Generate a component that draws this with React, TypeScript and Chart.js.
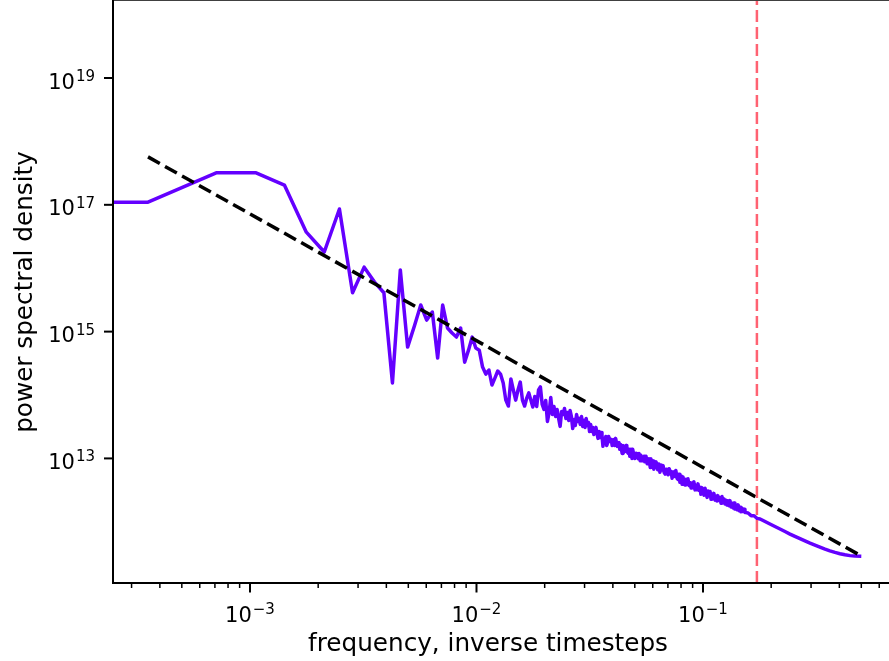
import React, { useEffect, useRef } from "react";
import { Chart, registerables } from "chart.js";

Chart.register(...registerables);

// ---- data ----
const N_SAMPLES = 2820; // frequency = bin / N_SAMPLES (inverse timesteps)

// low-frequency bins (every bin)
const lowBins = [
  0, 1, 2, 3, 4, 5, 6, 7, 8, 9, 10, 11, 12, 13, 14, 15, 16, 17, 18, 19, 20,
  21, 22, 23, 24, 25, 26, 27, 28, 29, 30, 31, 32, 33, 34, 35, 36, 37, 38, 39, 40,
  41, 42, 43, 44, 45, 46, 47, 48, 49, 50,
  51, 52, 53, 54, 55, 56, 57, 58, 59, 60, 61, 62, 63, 64, 65, 66, 67, 68, 69, 70,
  71, 72, 73, 74, 75, 76, 77, 78, 79, 80, 81, 82, 83, 84, 85, 86, 87, 88, 89, 90,
];
const lowPsd = [
  1.1e17, 1.1e17, 3.2e17, 3.2e17, 2.05e17, 3.7e16, 1.8e16, 8.6e16, 4.1e15, 1.04e16, 6.05e15,
  4.1e15, 1.55e14, 9.4e15, 5.7e14, 1.23e15, 2.63e15, 1.52e15, 2.04e15, 3.83e14, 2.63e15,
  1.14e15, 9.5e14, 8.2e14, 1.14e15, 3.3e14, 5.1e14, 8.2e14, 5.5e14, 5.1e14, 2.76e14,
  2.14e14, 2.48e14, 1.44e14, 1.85e14, 2.39e14, 2.14e14, 1.55e14, 8.3e13, 6.7e13, 1.79e14,
  1.2e14, 8.3e13, 1.2e14, 1.6e14, 8.3e13, 6.7e13, 8.96e13, 1.08e14, 8.3e13, 6.46e13,
  9.49e13, 6.6e13, 1.2e14, 1.34e14, 7.1e13, 5.92e13, 8.21e13, 3.83e13, 5.31e13, 9.15e13,
  4.94e13, 6.6e13, 4.59e13, 5.92e13, 4.27e13, 3.2e13, 5.51e13, 4.94e13, 6.14e13, 4.27e13,
  5.31e13, 3.97e13, 5.71e13, 4.59e13, 2.97e13, 4.12e13, 3.31e13, 4.94e13, 3.83e13, 4.27e13,
  3.44e13, 4.59e13, 3.2e13, 3.97e13, 3.08e13, 4.27e13, 3.31e13, 3.69e13, 2.66e13, 3.44e13,
];

// mid-frequency bins (dense, noisy band)
const midBins = [
  91, 92, 93, 94, 95, 96, 97, 98, 99, 100,
  101, 102, 103, 104, 105, 106, 107, 108, 110, 111,
  112, 113, 114, 115, 116, 118, 119, 120, 121, 122,
  124, 125, 126, 128, 129, 130, 132, 133, 134, 136,
  137, 138, 140, 141, 143, 144, 146, 147, 149, 150,
  152, 153, 155, 156, 158, 160, 161, 163, 165, 166,
  168, 170, 171, 173, 175, 177, 178, 180, 182, 184,
  186, 188, 190, 192, 194, 196, 198, 200, 202, 204,
  206, 208, 210, 212, 214, 217, 219, 221, 223, 226,
  228, 230, 233, 235, 237, 240, 242, 245, 247, 250,
  252, 255, 257, 260, 263, 265, 268, 271, 274, 276,
  279, 282, 285, 288, 291, 294, 297, 300, 303, 306,
  309, 312, 315, 319, 322, 325, 328, 332, 335, 339,
  342, 346, 349, 353, 356, 360, 364, 367, 371, 375,
  379, 383, 387, 390, 394, 399, 403, 407, 411, 415,
  419, 424, 428, 432,
];
const midPsd = [
  2.66e13, 3.08e13, 2.39e13, 2.87e13, 3.08e13, 2.48e13, 2.07e13, 2.66e13, 2.14e13, 2.57e13,
  2.3e13, 1.55e13, 2.07e13, 1.85e13, 2.22e13, 1.6e13, 1.79e13, 2.22e13, 1.85e13, 1.99e13,
  1.6e13, 1.79e13, 1.99e13, 1.6e13, 2.07e13, 1.55e13, 1.6e13, 1.79e13, 1.39e13, 1.66e13,
  1.2e13, 1.6e13, 1.24e13, 1.49e13, 1.6e13, 1.29e13, 1.2e13, 1.39e13, 1.08e13, 1.39e13,
  1.0e13, 1.39e13, 1.08e13, 1.0e13, 1.2e13, 1.16e13, 9.84e12, 1.2e13, 9.15e12, 1.12e13,
  9.15e12, 9.84e12, 1.08e13, 8.83e12, 1.08e13, 8.21e12, 8.83e12, 9.84e12, 7.2e12, 9.91e12,
  7.36e12, 9.09e12, 6.75e12, 8.33e12, 8.82e12, 7.25e12, 6.61e12, 8.15e12, 6.05e12, 7.86e12,
  6.55e12, 7.69e12, 6.01e12, 5.67e12, 6.75e12, 6.7e12, 5.51e12, 6.89e12, 5.83e12, 6.28e12,
  4.87e12, 5.71e12, 6.14e12, 5.2e12, 6.46e12, 4.8e12, 4.66e12, 5.63e12, 4.21e12, 5.27e12,
  3.92e12, 5.09e12, 4.21e12, 3.8e12, 4.69e12, 4.27e12, 4.76e12, 3.72e12, 4.18e12, 3.41e12,
  4.09e12, 3.64e12, 4.3e12, 3.19e12, 3.74e12, 3.21e12, 3.97e12, 3.13e12, 3.49e12, 2.72e12,
  3.46e12, 2.91e12, 2.64e12, 3.38e12, 2.87e12, 2.43e12, 3.07e12, 2.6e12, 3.0e12, 2.26e12,
  2.72e12, 2.31e12, 2.81e12, 2.2e12, 2.53e12, 2.13e12, 2.59e12, 2.17e12, 2.38e12, 1.96e12,
  2.5e12, 2.0e12, 2.29e12, 1.91e12, 2.19e12, 1.84e12, 2.14e12, 1.79e12, 2.16e12, 1.71e12,
  1.96e12, 1.66e12, 1.98e12, 1.59e12, 1.83e12, 1.55e12, 1.85e12, 1.5e12, 1.7e12, 1.44e12,
  1.64e12, 1.46e12, 1.58e12, 1.41e12,
];

// high-frequency bins (smooth tail up to Nyquist)
const highBins = [
  446, 460, 474, 489, 504, 530, 557, 586, 617, 649, 683, 718, 756, 795, 837, 880,
  926, 975, 1025, 1079, 1135, 1194, 1257, 1322, 1410,
];
const highPsd = [
  1.38e12, 1.25e12, 1.25e12, 1.13e12, 1.11e12, 1.01e12, 9.22e11, 8.42e11, 7.69e11, 7.02e11,
  6.41e11, 5.9e11, 5.43e11, 5.01e11, 4.62e11, 4.3e11, 4.0e11, 3.72e11, 3.49e11, 3.29e11,
  3.14e11, 3.02e11, 2.93e11, 2.88e11, 2.86e11,
];

// f^-2 reference line (two end points)
const fitFreqs = [1 / 2820, 0.5];
const fitValues = [5.7e17, 2.89e11];

// vertical cutoff marker
const cutoffFreq = 0.173;

// axis ranges and ticks
const X_MIN = 2.484e-4;
const X_MAX = 0.6626;
const Y_MIN = 1.084e11;
const Y_MAX = 1.639e20;
const xTickExps = [-3, -2, -1];
const xMinorDecades = [-4, -3, -2, -1];
const yTickExps = [13, 15, 17, 19];

const xTitle = "frequency, inverse timesteps";
const yTitle = "power spectral density";

// ---- styles ----
const FONT = '"DejaVu Sans", "Liberation Sans", sans-serif';
const TICK_FONT = 21;
const SUP_FONT = 15;
const TITLE_FONT = 24.7;

function drawPower(ctx: CanvasRenderingContext2D, exp: number, x: number, baseY: number, align: "center" | "right") {
  const base = "10";
  const sup = exp < 0 ? "\u2212" + String(-exp) : String(exp);
  ctx.font = `${TICK_FONT}px ${FONT}`;
  const wb = ctx.measureText(base).width;
  ctx.font = `${SUP_FONT}px ${FONT}`;
  const ws = ctx.measureText(sup).width;
  const gap = 1;
  const total = wb + gap + ws;
  const left = align === "center" ? x - total / 2 : x - total;
  ctx.textAlign = "left";
  ctx.textBaseline = "alphabetic";
  ctx.font = `${TICK_FONT}px ${FONT}`;
  ctx.fillText(base, left, baseY);
  ctx.font = `${SUP_FONT}px ${FONT}`;
  ctx.fillText(sup, left + wb + gap, baseY - 7.5);
}

const axesPlugin = {
  id: "mplAxes",
  afterDraw(chart: any) {
    const { ctx, chartArea: a, scales } = chart;
    const xs = scales.x;
    const ys = scales.y;
    ctx.save();
    ctx.strokeStyle = "#000";
    ctx.fillStyle = "#000";

    // minor x ticks
    ctx.lineWidth = 1.5;
    for (const d of xMinorDecades) {
      for (let m = 2; m <= 9; m++) {
        const v = m * Math.pow(10, d);
        if (v < xs.min || v > xs.max) continue;
        const px = xs.getPixelForValue(v);
        ctx.beginPath();
        ctx.moveTo(px, a.bottom);
        ctx.lineTo(px, a.bottom + 5);
        ctx.stroke();
      }
    }
    // major x ticks + labels
    ctx.lineWidth = 2;
    for (const e of xTickExps) {
      const px = xs.getPixelForValue(Math.pow(10, e));
      ctx.beginPath();
      ctx.moveTo(px, a.bottom);
      ctx.lineTo(px, a.bottom + 9.5);
      ctx.stroke();
      drawPower(ctx, e, px, a.bottom + 38.5, "center");
    }
    // major y ticks + labels
    for (const e of yTickExps) {
      const py = ys.getPixelForValue(Math.pow(10, e));
      ctx.beginPath();
      ctx.moveTo(a.left - 9, py);
      ctx.lineTo(a.left, py);
      ctx.stroke();
      drawPower(ctx, e, a.left - 18, py + 10.5, "right");
    }

    // spines
    ctx.lineWidth = 2;
    ctx.beginPath();
    ctx.moveTo(a.left, 0);
    ctx.lineTo(a.left, a.bottom);
    ctx.lineTo(a.right + 2, a.bottom);
    ctx.stroke();
    ctx.lineWidth = 1.5;
    ctx.beginPath();
    ctx.moveTo(a.left, a.top - 1);
    ctx.lineTo(a.right + 2, a.top - 1);
    ctx.stroke();

    // axis titles
    ctx.font = `${TITLE_FONT}px ${FONT}`;
    ctx.textAlign = "center";
    ctx.textBaseline = "alphabetic";
    ctx.fillText(xTitle, 488, a.bottom + 68);
    ctx.translate(31.5, 292);
    ctx.rotate(-Math.PI / 2);
    ctx.fillText(yTitle, 0, 0);
    ctx.restore();
  },
};

export default function App() {
  const canvasRef = useRef<HTMLCanvasElement | null>(null);

  useEffect(() => {
    const canvas = canvasRef.current;
    if (!canvas) return;
    const bins = [...lowBins, ...midBins, ...highBins];
    const psd = [...lowPsd, ...midPsd, ...highPsd];
    const psdData = bins.map((b, i) => ({ x: b / N_SAMPLES, y: psd[i] }));
    const fitData = fitFreqs.map((f, i) => ({ x: f, y: fitValues[i] }));
    const cutoffData = [
      { x: cutoffFreq, y: Y_MIN },
      { x: cutoffFreq, y: Y_MAX },
    ];
    const chart = new Chart(canvas, {
      type: "line",
      data: {
        datasets: [
          {
            label: "cutoff",
            data: cutoffData,
            borderColor: "#ff6272",
            borderWidth: 2.5,
            borderDash: [12, 5],
            pointRadius: 0,
            order: 0,
          },
          {
            label: "f^-2",
            data: fitData,
            borderColor: "#000000",
            borderWidth: 3.5,
            borderDash: [13.5, 6],
            pointRadius: 0,
            order: 1,
          },
          {
            label: "PSD",
            data: psdData,
            borderColor: "#6400ff",
            borderWidth: 3.5,
            borderJoinStyle: "round",
            pointRadius: 0,
            order: 2,
          },
        ],
      },
      options: {
        animation: false,
        responsive: false,
        events: [],
        layout: { padding: { left: 113, top: 1, right: 0, bottom: 78 } },
        plugins: { legend: { display: false }, tooltip: { enabled: false } },
        scales: {
          x: { type: "logarithmic", min: X_MIN, max: X_MAX, display: false },
          y: { type: "logarithmic", min: Y_MIN, max: Y_MAX, display: false },
        },
        elements: { point: { radius: 0 }, line: { tension: 0 } },
      },
      plugins: [axesPlugin],
    } as any);
    return () => chart.destroy();
  }, []);

  return (
    <div style={{ position: "fixed", left: 0, top: 0, width: 889, height: 661, background: "#fff" }}>
      <canvas ref={canvasRef} width={889} height={661} style={{ display: "block" }} />
    </div>
  );
}
